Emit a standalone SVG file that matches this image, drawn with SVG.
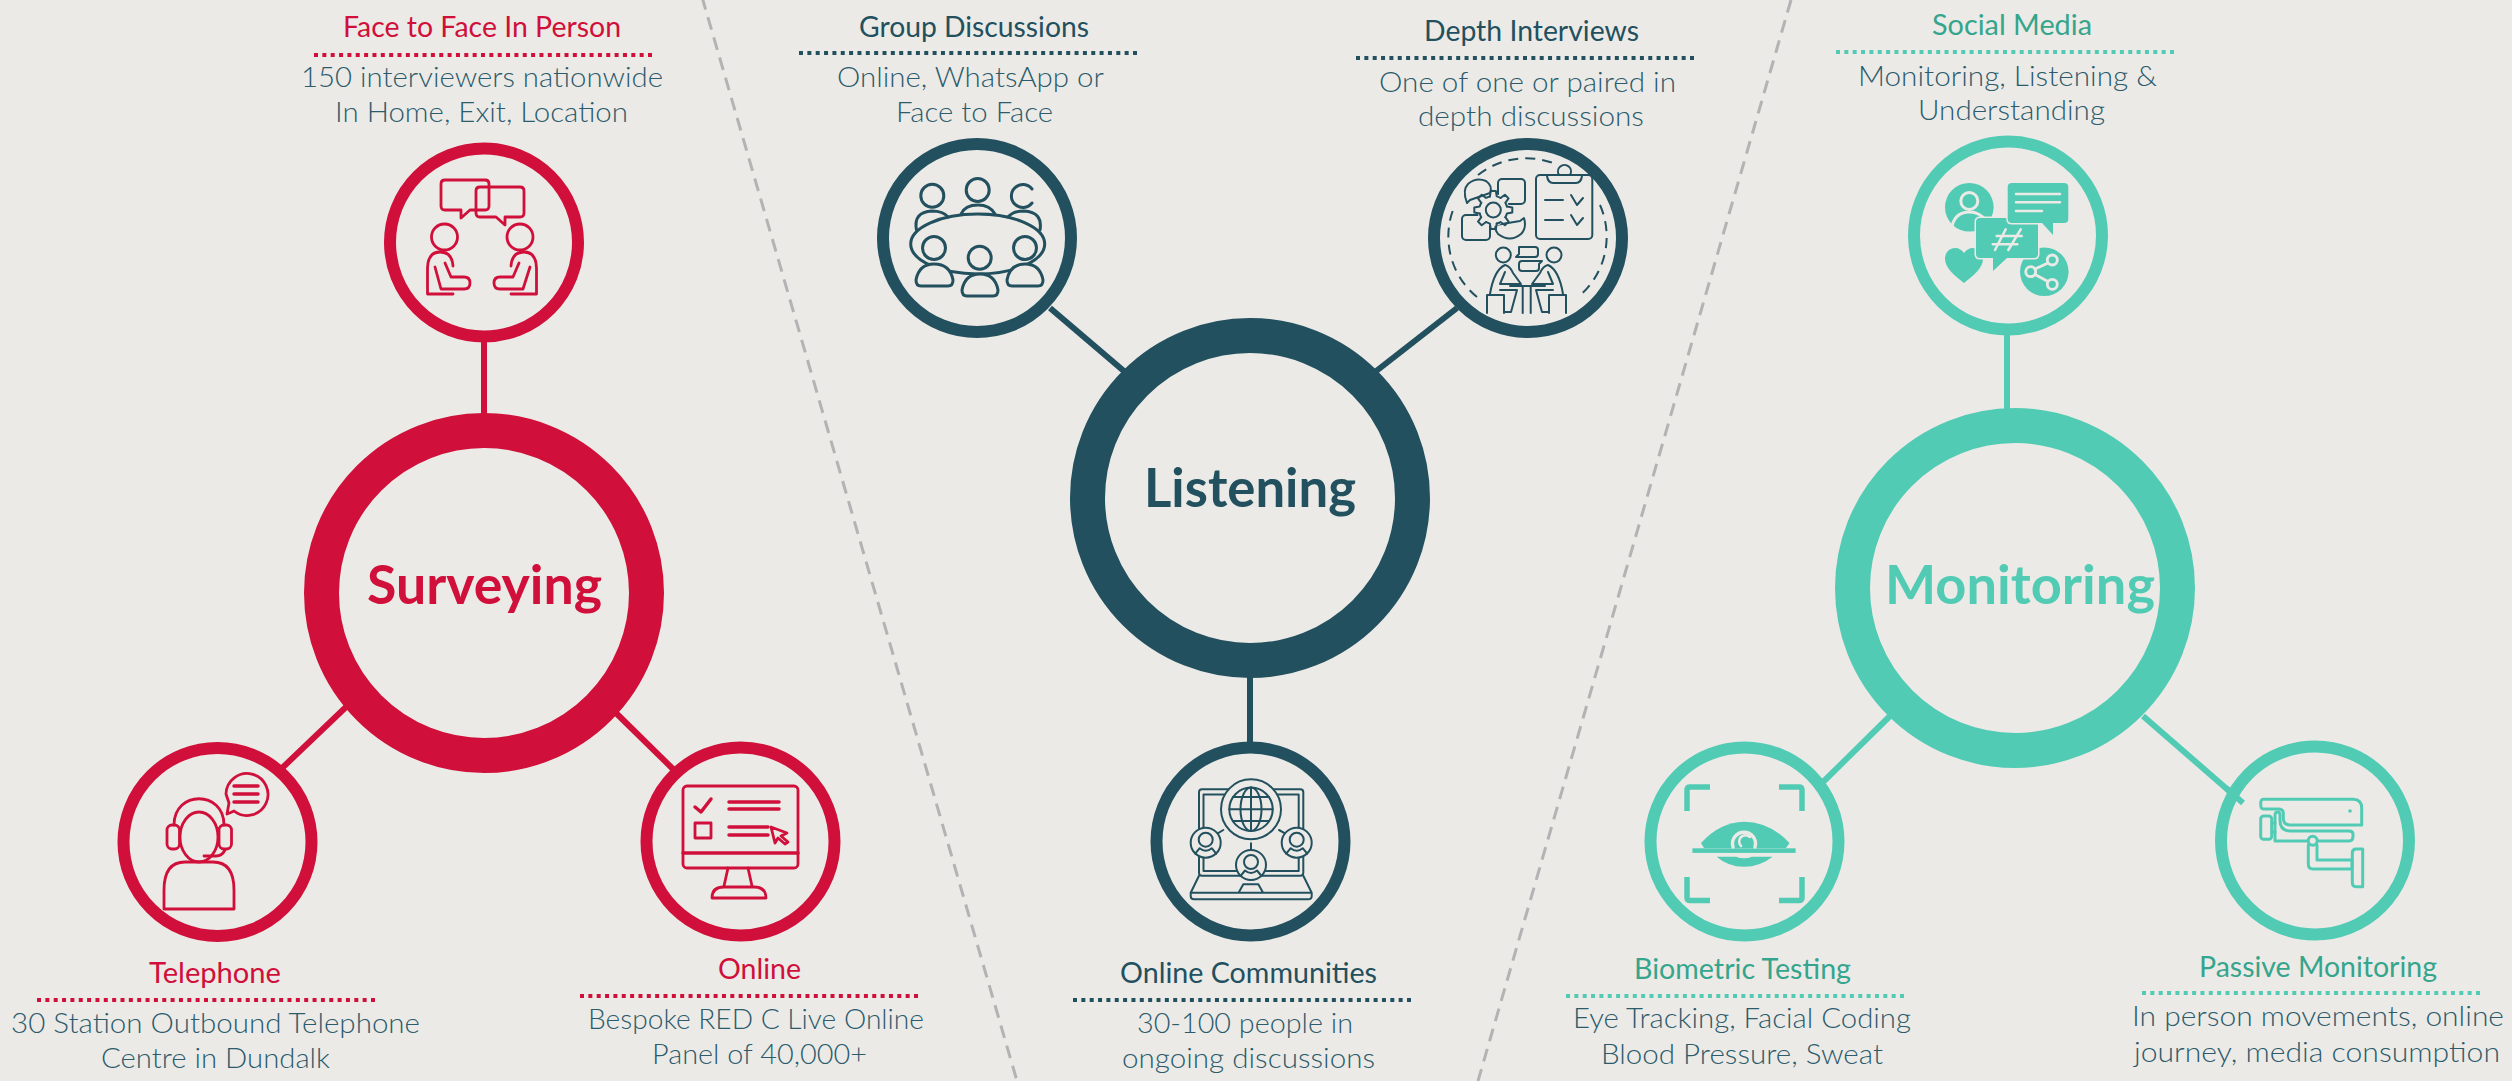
<svg xmlns="http://www.w3.org/2000/svg" xmlns:xlink="http://www.w3.org/1999/xlink" width="2512" height="1081" viewBox="0 0 2512 1081">
<style>
text{font-family:"Lato","Carlito","Liberation Sans",sans-serif}
.t{font-size:28px;font-weight:400}
.b{font-size:27px;font-weight:300;fill:#2B5B6C}
.c{font-size:54px;font-weight:700}
.red{fill:#D0103A}.navy{fill:#22505F}.teal{fill:#52CBB5}.tealt{fill:#35A58D}
.ring{fill:#ECEAE6}
.rr{stroke:#D0103A}.nr{stroke:#22505F}.tr{stroke:#52CBB5}
.dot{stroke-width:4;stroke-dasharray:4 4.35;fill:none}
.ic{fill:none;stroke-linecap:round;stroke-linejoin:round}
.conn{fill:none;stroke-width:6}
.div{fill:none;stroke:#B3B3B3;stroke-width:3;stroke-dasharray:13 8}
.bgs{stroke:#ECEAE6;fill:none;stroke-linecap:round}
</style>
<defs>
<path id="tooth" d="M13.6 -3.4L19 -2.6V2.6L13.6 3.4A14 14 0 0 1 12 7.2"/>
<g id="cp"><circle r="15" fill="#ECEAE6"/><circle cy="-3" r="7"/><path d="M-10.500 11L-6 5.500Q-3 8 0 8Q3 8 6 5.500L10.500 11"/></g>
</defs>
<rect width="2512" height="1081" fill="#ECEAE6"/>
<g id="dividers">
<line class="div" x1="702" y1="-3" x2="1017" y2="1081"/>
<line class="div" x1="1791" y1="0" x2="1478" y2="1081"/>
</g>
<g id="connectors">
<line class="conn rr" x1="484" y1="340" x2="484" y2="425"/>
<line class="conn rr" x1="346" y1="707" x2="279" y2="771"/>
<line class="conn rr" x1="616" y1="713" x2="673" y2="769"/>
<line class="conn nr" x1="1050" y1="308" x2="1125" y2="372"/>
<line class="conn nr" x1="1457" y1="308" x2="1375" y2="372"/>
<line class="conn nr" x1="1250" y1="670" x2="1250" y2="745"/>
<line class="conn tr" x1="2007" y1="333" x2="2007" y2="412"/>
<line class="conn tr" x1="1890" y1="716" x2="1820" y2="785"/>
<line class="conn tr" x1="2143" y1="716" x2="2243" y2="803"/>
</g>

<g id="surveying"><circle cx="484" cy="593" r="162.500" class="ring rr" stroke-width="35"/><text class="c red" x="367" y="604" textLength="235" lengthAdjust="spacingAndGlyphs">Surveying</text></g>
<g id="listening"><circle cx="1250" cy="498" r="162.500" class="ring nr" stroke-width="35"/><text class="c navy" x="1144" y="507" textLength="212" lengthAdjust="spacingAndGlyphs">Listening</text></g>
<g id="monitoring"><circle cx="2015" cy="588" r="162.500" class="ring tr" stroke-width="35"/><text class="c teal" x="1885" y="604" textLength="270" lengthAdjust="spacingAndGlyphs">Monitoring</text></g>

<g id="face-to-face">
<circle cx="484" cy="242.500" r="94" class="ring rr" stroke-width="12"/>
<g class="ic rr" stroke-width="2.800">
<path d="M445 180H485Q489 180 489 184V206Q489 210 485 210H470L461 218V210H445Q441 210 441 206V184Q441 180 445 180Z"/>
<path d="M480 187H520Q524 187 524 191V213Q524 217 520 217H505V225L496 217H480Q476 217 476 213V191Q476 187 480 187Z"/>
<circle cx="444.500" cy="237" r="13"/><circle cx="520" cy="237" r="13"/>
<path d="M453 294H427.500V268Q428 252 440 252Q452 252 453 266"/>
<path d="M445 263L451 277H464Q470 277 470 283Q470 289 464 289H441L435 267"/>
<path d="M511 294H536.500V268Q536 252 524 252Q512 252 511 266"/>
<path d="M519 263L513 277H500Q494 277 494 283Q494 289 500 289H523L530 267"/>
</g>
<text class="t red" x="343" y="37" textLength="278" lengthAdjust="spacingAndGlyphs">Face to Face In Person</text>
<line class="dot rr" x1="314" y1="55" x2="655" y2="55"/>
<text class="b" x="301" y="87" textLength="362" lengthAdjust="spacingAndGlyphs">150 interviewers nationwide</text>
<text class="b" x="335" y="122" textLength="293" lengthAdjust="spacingAndGlyphs">In Home, Exit, Location</text>
</g>

<g id="telephone">
<circle cx="217.500" cy="842" r="94" class="ring rr" stroke-width="12"/>
<g class="ic rr" stroke-width="2.800">
<path d="M229 803Q226 794 226 794A21 21 0 1 1 234 811Q230 813 227 814Z"/>
<path d="M234 786H258M234 794H258M234 802H258" stroke-width="3.500"/>
<ellipse cx="199" cy="837" rx="19" ry="25"/>
<path d="M174 825C174 790 224 790 224 825"/>
<rect x="167" y="825" width="12.500" height="24" rx="5"/><rect x="219" y="825" width="12.500" height="24" rx="5"/>
<path d="M225 850Q222 856 216 856H204"/>
<path d="M164 909V890Q164 862 185 862H213Q234 862 234 890V909Z"/>
</g>
<text class="t red" x="149" y="983" textLength="132" lengthAdjust="spacingAndGlyphs">Telephone</text>
<line class="dot rr" x1="37" y1="1000" x2="377" y2="1000"/>
<text class="b" x="11" y="1033" textLength="409" lengthAdjust="spacingAndGlyphs">30 Station Outbound Telephone</text>
<text class="b" x="101" y="1068" textLength="229" lengthAdjust="spacingAndGlyphs">Centre in Dundalk</text>
</g>

<g id="online">
<circle cx="740.500" cy="841.500" r="94" class="ring rr" stroke-width="12"/>
<g class="ic rr" stroke-width="2.800">
<rect x="683" y="786" width="115" height="82" rx="4"/>
<path d="M683 853H798" stroke-width="3.500"/>
<path d="M695 807L701 812L711 799" stroke-width="3.500"/>
<path d="M729 802H779M729 809H779M729 827H768M729 835H768" stroke-width="3.500"/>
<rect x="695" y="823" width="16" height="15"/>
<path d="M771 827L787 833L781 836L788 842L785 844L778 838L775 843Z"/>
<path d="M728 868L724 886M748 868L752 886"/>
<path d="M712 898Q712 887 724 887H754Q766 887 766 898Z"/>
</g>
<text class="t red" x="718" y="979" textLength="83" lengthAdjust="spacingAndGlyphs">Online</text>
<line class="dot rr" x1="580" y1="996" x2="921" y2="996"/>
<text class="b" x="588" y="1029" textLength="336" lengthAdjust="spacingAndGlyphs">Bespoke RED C Live Online</text>
<text class="b" x="652" y="1064" textLength="215" lengthAdjust="spacingAndGlyphs">Panel of 40,000+</text>
</g>

<g id="group-discussions">
<circle cx="977" cy="238" r="94" class="ring nr" stroke-width="12"/>
<g class="ic nr" stroke-width="3">
<circle cx="932.300" cy="195.700" r="11.500"/><circle cx="977.700" cy="190" r="11.500"/>
<path d="M1032 189A11.500 11.500 0 1 0 1032 203"/>
<path d="M916.500 230Q913 212 932 211Q943 211 948 217"/>
<path d="M961 214Q965 205 978 205Q990 205 995 214"/>
<path d="M1008 217Q1013 211 1024 211Q1043 212 1040 230"/>
<ellipse cx="977.700" cy="244" rx="67" ry="30"/>
<circle cx="934" cy="248" r="11.500"/><circle cx="979.700" cy="257.700" r="11.500"/><circle cx="1025" cy="248" r="11.500"/>
<path d="M921 286H948Q953 286 953 280Q950 264 934 264Q919 264 916 280Q916 286 921 286Z" fill="#ECEAE6"/>
<path d="M967 296H993Q998 296 998 290Q995 274 980 274Q965 274 962 290Q962 296 967 296Z" fill="#ECEAE6"/>
<path d="M1012 286H1038Q1043 286 1043 280Q1040 264 1025 264Q1010 264 1007 280Q1007 286 1012 286Z" fill="#ECEAE6"/>
</g>
<text class="t navy" x="859" y="37" textLength="230" lengthAdjust="spacingAndGlyphs">Group Discussions</text>
<line class="dot nr" x1="799" y1="53" x2="1140" y2="53"/>
<text class="b" x="837" y="87" textLength="267" lengthAdjust="spacingAndGlyphs">Online, WhatsApp or</text>
<text class="b" x="896" y="122" textLength="157" lengthAdjust="spacingAndGlyphs">Face to Face</text>
</g>

<g id="depth-interviews">
<circle cx="1528" cy="238" r="94" class="ring nr" stroke-width="12"/>
<g class="ic nr" stroke-width="2">
<path d="M1478 175A78 78 0 0 1 1558 165M1600 205A78 78 0 0 1 1578 297M1477 297A78 78 0 0 1 1455 205" stroke-dasharray="10 7" stroke-linecap="butt"/>
<rect x="1536" y="175" width="56.300" height="64" rx="4"/>
<path d="M1547 176Q1548 183 1553 183H1576Q1581 183 1582 176M1559 175A6.500 6.500 0 1 1 1570 175"/>
<path d="M1545 200H1563M1545 220H1563M1571 195L1577 205L1583 198M1571 215L1577 225L1583 218"/>
<path d="M1467 203Q1462 190 1468 184Q1476 177 1486 181Q1493 186 1490 193L1470 200Z"/>
<rect x="1498" y="179" width="27" height="25" rx="4"/>
<rect x="1462" y="215" width="28" height="25" rx="4"/>
<path d="M1524 218Q1527 228 1521 234Q1510 243 1498 234Q1494 229 1496 225L1520 221Z"/>
<g transform="translate(1493.300 210)" fill="#ECEAE6" stroke="none"><circle r="16"/></g>
<g transform="translate(1493.300 210)"><use xlink:href="#tooth"/><use xlink:href="#tooth" transform="rotate(45)"/><use xlink:href="#tooth" transform="rotate(90)"/><use xlink:href="#tooth" transform="rotate(135)"/><use xlink:href="#tooth" transform="rotate(180)"/><use xlink:href="#tooth" transform="rotate(225)"/><use xlink:href="#tooth" transform="rotate(270)"/><use xlink:href="#tooth" transform="rotate(315)"/><circle r="7.500"/></g>
<circle cx="1503.300" cy="255" r="7.500"/><circle cx="1554" cy="255" r="7.500"/>
<path d="M1519 247H1535Q1538 247 1538 250V254Q1538 257 1535 257H1516L1519 254Z"/>
<path d="M1522 261H1542L1539 264V268Q1539 271 1536 271H1522Q1519 271 1519 268V264Q1519 261 1522 261Z"/>
<path d="M1522.700 286V313M1530.700 286V313M1510 286H1545"/>
<g id="d-l"><path d="M1490 294Q1494 270 1505 265Q1510 266 1513 273L1521 284H1500L1505 272"/><path d="M1487 295V313M1487 295H1504V313M1500 290H1517L1511 312H1504"/></g>
<g transform="translate(3053 0) scale(-1 1)"><path d="M1490 294Q1494 270 1505 265Q1510 266 1513 273L1521 284H1500L1505 272"/><path d="M1487 295V313M1487 295H1504V313M1500 290H1517L1511 312H1504"/></g>
</g>
<text class="t navy" x="1424" y="41" textLength="215" lengthAdjust="spacingAndGlyphs">Depth Interviews</text>
<line class="dot nr" x1="1356" y1="58" x2="1696" y2="58"/>
<text class="b" x="1379" y="92" textLength="297" lengthAdjust="spacingAndGlyphs">One of one or paired in</text>
<text class="b" x="1418" y="126" textLength="226" lengthAdjust="spacingAndGlyphs">depth discussions</text>
</g>

<g id="online-communities">
<circle cx="1250.500" cy="841.500" r="94" class="ring nr" stroke-width="12"/>
<g class="ic nr" stroke-width="2">
<rect x="1199" y="789.300" width="104.300" height="86.400" rx="3"/>
<path d="M1203.500 794.500H1298.700V871H1203.500Z"/>
<path d="M1199 875.700L1190.700 892.700H1311.700L1303.300 875.700M1190.700 892.700V896Q1190.700 899.300 1194 899.300H1308Q1311.700 899.300 1311.700 896V892.700M1239 892L1243.300 884.300H1258.300L1262.700 892"/>
<circle cx="1251" cy="809.300" r="30" fill="#ECEAE6"/><circle cx="1251" cy="809.300" r="21.700"/>
<ellipse cx="1251" cy="809.300" rx="10.500" ry="21.700"/><path d="M1251 787.600V831M1229.300 809.300H1272.700M1233 797H1269M1233 821H1269"/>
<path d="M1217.700 833.300L1223.300 830M1279 830L1285 833.300M1251 843.300V850"/>
<use xlink:href="#cp" x="1205.700" y="842.700"/><use xlink:href="#cp" x="1296.700" y="842.700"/><use xlink:href="#cp" x="1251" y="865"/>
</g>
<text class="t navy" x="1120" y="983" textLength="257" lengthAdjust="spacingAndGlyphs">Online Communities</text>
<line class="dot nr" x1="1073" y1="1000" x2="1414" y2="1000"/>
<text class="b" x="1137" y="1033" textLength="216" lengthAdjust="spacingAndGlyphs">30-100 people in</text>
<text class="b" x="1122" y="1068" textLength="253" lengthAdjust="spacingAndGlyphs">ongoing discussions</text>
</g>

<g id="social-media">
<circle cx="2008" cy="235.500" r="94" class="ring tr" stroke-width="12"/>
<circle cx="1969.300" cy="207.300" r="24.300" class="teal"/>
<circle cx="1969.300" cy="201" r="8.500" class="bgs" stroke-width="3"/>
<path d="M1952.300 225Q1956 212 1969.300 212Q1980 212 1986 221" class="bgs" stroke-width="3"/>
<path class="teal" d="M1964 283C1955 276 1945 268 1945 259C1945 252 1950 248 1955 248C1959 248 1962 250 1964 253C1966 250 1969 248 1973 248C1979 248 1983 252 1983 259C1983 268 1973 276 1964 283Z"/>
<circle cx="2044.300" cy="271.700" r="24.300" class="teal"/>
<circle cx="2052.300" cy="260" r="5" class="bgs" stroke-width="2.800"/><circle cx="2030.700" cy="271.700" r="5" class="bgs" stroke-width="2.800"/><circle cx="2052.300" cy="284.300" r="5" class="bgs" stroke-width="2.800"/>
<path d="M2048 263L2035 269M2035 274.500L2048 281.500" class="bgs" stroke-width="2.800"/>
<path class="teal" stroke="#ECEAE6" stroke-width="3" paint-order="stroke" d="M1980 218H2034Q2038 218 2038 222V254Q2038 258 2034 258H2007L1993 271V258H1980Q1976 258 1976 254V222Q1976 218 1980 218Z"/>
<path d="M2005.700 229.300L1995 250M2020.700 229.300L2008.300 250M1996.700 236H2021.700M1992.700 244.300H2017.300" class="bgs" stroke-width="2.500"/>
<path class="teal" stroke="#ECEAE6" stroke-width="3" paint-order="stroke" d="M2012 183H2064Q2068.300 183 2068.300 187V219Q2068.300 223 2064 223H2053V235L2042 223H2012Q2007.700 223 2007.700 219V187Q2007.700 183 2012 183Z"/>
<path d="M2016 194H2060M2016 202.300H2060M2016 211H2042" class="bgs" stroke-width="2.500"/>
<text class="t tealt" x="1932" y="35" textLength="160" lengthAdjust="spacingAndGlyphs">Social Media</text>
<line class="dot tr" x1="1836" y1="52" x2="2177" y2="52"/>
<text class="b" x="1858" y="86" textLength="299" lengthAdjust="spacingAndGlyphs">Monitoring, Listening &amp;</text>
<text class="b" x="1918" y="120" textLength="187" lengthAdjust="spacingAndGlyphs">Understanding</text>
</g>

<g id="biometric-testing">
<circle cx="1744.500" cy="841.500" r="94" class="ring tr" stroke-width="12"/>
<path class="tr" fill="none" stroke-width="5.500" d="M1710 787H1690Q1687 787 1687 790V811M1779 787H1799Q1802 787 1802 790V811M1710 900.500H1690Q1687 900.500 1687 897.500V877M1779 900.500H1799Q1802 900.500 1802 897.500V877"/>
<path class="teal" d="M1701 843Q1720 822 1744 821.700Q1770 822 1789.500 843L1786 848H1704Z"/>
<rect x="1692.400" y="848.300" width="103.200" height="4.600" class="teal"/>
<path class="teal" d="M1716.600 856.700H1736Q1744 860 1752 856.700H1772.500Q1760 866.700 1744 866.700Q1728 866.700 1716.600 856.700Z"/>
<path d="M1733 847A11.500 11.500 0 1 1 1755 847" class="bgs" stroke-width="3.500"/>
<path d="M1750 837A6 6 0 1 0 1741 846" class="bgs" stroke-width="2.500"/>
<text class="t tealt" x="1634" y="979" textLength="217" lengthAdjust="spacingAndGlyphs">Biometric Testing</text>
<line class="dot tr" x1="1566" y1="996" x2="1907" y2="996"/>
<text class="b" x="1573" y="1028" textLength="338" lengthAdjust="spacingAndGlyphs">Eye Tracking, Facial Coding</text>
<text class="b" x="1601" y="1064" textLength="282" lengthAdjust="spacingAndGlyphs">Blood Pressure, Sweat</text>
</g>

<g id="passive-monitoring">
<circle cx="2315" cy="840.500" r="94" class="ring tr" stroke-width="12"/>
<line class="conn tr" x1="2226" y1="788" x2="2243" y2="803"/>
<g class="ic tr" stroke-width="3">
<path d="M2263.300 799.300H2353.300Q2361.700 799.300 2361.700 808.300V825H2290Q2283.300 825 2283.300 818V813Q2283.300 809 2278 809H2263.300Q2260.700 809 2260.700 804Q2260.700 799.300 2263.300 799.300Z"/>
<path d="M2275 815V841H2349Q2353 841 2353 836V834Q2353 831 2349 831H2290Q2280 831 2280 820V815Q2280 812 2277.500 812Q2275 812 2275 815Z"/>
<rect x="2260.700" y="816" width="11" height="23.300" rx="3"/><path d="M2272 823H2275M2272 832H2275"/>
<circle cx="2312.700" cy="840.700" r="4.500" fill="#ECEAE6"/>
<path d="M2308.300 845V864Q2308.300 869 2313 869H2352V860H2317V845"/>
<path d="M2362.700 849H2356Q2352.300 849 2352.300 853V882Q2352.300 886.700 2356 886.700H2362.700Z"/>
</g>
<circle cx="2350" cy="811" r="1.800" class="teal"/>
<text class="t tealt" x="2199" y="977" textLength="238" lengthAdjust="spacingAndGlyphs">Passive Monitoring</text>
<line class="dot tr" x1="2142" y1="993" x2="2483" y2="993"/>
<text class="b" x="2132" y="1026" textLength="372" lengthAdjust="spacingAndGlyphs">In person movements, online</text>
<text class="b" x="2134" y="1062" textLength="366" lengthAdjust="spacingAndGlyphs">journey, media consumption</text>
</g>
</svg>
